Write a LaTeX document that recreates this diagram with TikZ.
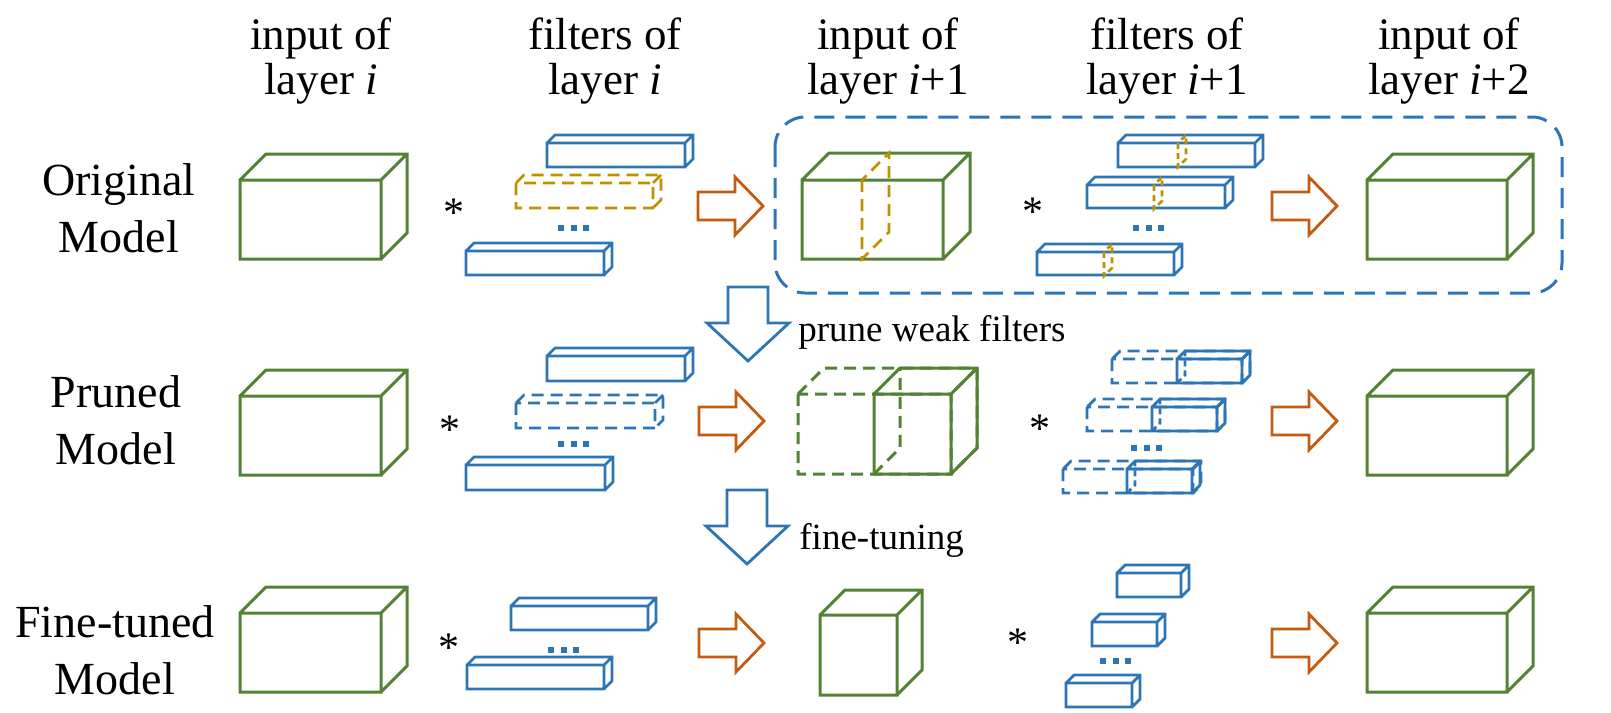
\documentclass[tikz,border=0pt]{standalone}
\usepackage{fontspec}
\setmainfont{Liberation Serif}
\usetikzlibrary{calc}
\definecolor{leaf}{RGB}{84,130,53}
\definecolor{steel}{RGB}{46,117,182}
\definecolor{rust}{RGB}{197,90,17}
\definecolor{amber}{RGB}{191,144,0}
\tikzset{
  head/.style={font=\fontsize{22.5}{22.5}\selectfont,align=center,inner sep=0pt},
  rowlab/.style={font=\fontsize{23}{28.5}\selectfont,align=center,inner sep=0pt},
  note/.style={font=\fontsize{18.5}{22}\selectfont,anchor=west,inner sep=0pt},
  conv/.style={font=\fontsize{21}{24}\selectfont,inner sep=0pt,yshift=-2.7pt},
  cubeline/.style={leaf,line width=1.5pt},
  barline/.style={steel,line width=1.4pt},
  ghost/.style={dash pattern=on 6pt off 3.5pt},
  fine/.style={dash pattern=on 3pt off 2pt},
  flow/.style={rust,line width=1.4pt,line join=miter},
  stage/.style={steel,line width=1.4pt,line join=miter},
  pics/prism/.style args={#1/#2/#3}{code={
    \draw (0,0) rectangle (#1,#2)
      (0,0) -- (#3,-#3) -- ++(#1,0) -- ++(0,#2) -- (#1,#2)
      (#1+#3,-#3) -- (#1,0);
  }},
  pics/slice/.style args={#1/#2}{code={
    \draw (0,0) -- (0,#1) -- (#2,#1-#2) -- (#2,-#2) -- cycle;
  }},
  pics/hidden/.style args={#1/#2}{code={
    \draw (0,#1) -- (#2,#1-#2) -- (#2,-#2);
  }},
  pics/rightarrow/.style={code={
    \draw (0,-14) -- (37,-14) -- (37,-29) -- (65,0) -- (37,29) -- (37,14) -- (0,14) -- cycle;
  }},
  pics/downarrow/.style={code={
    \draw (-20,0) -- (20,0) -- (20,36) -- (41,36) -- (0,74) -- (-41,36) -- (-20,36) -- cycle;
  }}
}

\begin{document}
\begin{tikzpicture}[x=0.5pt,y=-0.5pt]
  \useasboundingbox (0,0) rectangle (1611,712);

  % column heads
  \node[head] (hin)   at (321,61)  {input of\\layer \textit{i}};
  \node[head] (hfil)  at (605,61)  {filters of\\layer \textit{i}};
  \node[head] (hinA)  at (888,61)  {input of\\layer \textit{i}+1};
  \node[head] (hfilA) at (1167,61) {filters of\\layer \textit{i}+1};
  \node[head] (hinB)  at (1449,61) {input of\\layer \textit{i}+2};

  % row labels
  \node[rowlab] (orig) at (119,208) {Original\\Model};
  \node[rowlab] (prun) at (116,420) {Pruned\\Model};
  \node[rowlab] (tune) at (115,650) {Fine-tuned\\Model};

  % original model
  \pic[cubeline] at (240,180) {prism=141/79/26};
  \node[conv] (sA1) at (454,207) {*};
  \pic[barline] at (547,143) {prism=138/24/8};
  \pic[amber,line width=1.4pt,ghost] at (516,183) {prism=137/25/8};
  \pic[barline] at (466,251) {prism=138/24/8};
  \pic[flow] at (698,206) {rightarrow};
  \pic[cubeline] at (802,180) {prism=141/79/27};
  \pic[amber,line width=1.4pt,ghost] at (862,180) {slice=79/27};
  \node[conv] (sA2) at (1033,206) {*};
  \pic[barline] at (1118,143) {prism=137/24/8};
  \pic[barline] at (1087,185) {prism=138/23/8};
  \pic[barline] at (1037,252) {prism=137/23/8};
  \foreach \x/\y in {1178/143,1154/185,1104/252}
    \pic[amber,line width=1.4pt,fine] at (\x,\y) {slice=24/8};
  \pic[flow] at (1272,206) {rightarrow};
  \pic[cubeline] at (1367,180) {prism=140/79/26};
  \draw[steel,line width=1.5pt,dash pattern=on 10pt off 5.5pt,rounded corners=15pt]
    (775,117) rectangle (1562,293);

  \pic[stage] at (748,287) {downarrow};
  \node[note] (prune) at (798,332) {prune weak filters};

  % pruned model
  \pic[cubeline] at (240,396) {prism=141/79/26};
  \node[conv] (sB1) at (450,424) {*};
  \pic[barline] at (547,356) {prism=138/25/8};
  \pic[barline,ghost] at (516,403) {prism=139/25/8};
  \pic[barline] at (466,465) {prism=139/25/8};
  \pic[flow] at (699,421) {rightarrow};
  \pic[cubeline,ghost] at (798,394) {prism=153/80/26};
  \pic[cubeline] at (874,394) {prism=77/80/26};
  \pic[cubeline,ghost] at (874,394) {hidden=80/26};
  \node[conv] (sB2) at (1040,423) {*};
  \foreach \x/\y/\s in {1112/359/1177,1087/407/1152,1063/469/1127}{
    \pic[barline,ghost] at (\x,\y) {prism=130/24/8};
    \pic[barline] at (\s,\y) {prism=65/24/8};
    \pic[barline,fine] at (\s,\y) {hidden=24/8};
  }
  \pic[flow] at (1272,421) {rightarrow};
  \pic[cubeline] at (1367,396) {prism=140/79/26};

  \pic[stage] at (747,490) {downarrow};
  \node[note] (tuning) at (799,540) {fine-tuning};

  % fine-tuned model
  \pic[cubeline] at (240,613) {prism=141/79/26};
  \node[conv] (sC1) at (449,642) {*};
  \pic[barline] at (511,606) {prism=137/24/8};
  \pic[barline] at (467,665) {prism=137/24/8};
  \pic[flow] at (699,643) {rightarrow};
  \pic[cubeline] at (820,615) {prism=77/80/25};
  \node[conv] (sC2) at (1018,637) {*};
  \pic[barline] at (1117,573) {prism=64/24/8};
  \pic[barline] at (1092,622) {prism=65/24/8};
  \pic[barline] at (1066,683) {prism=66/24/8};
  \pic[flow] at (1272,643) {rightarrow};
  \pic[cubeline] at (1367,613) {prism=140/79/26};

  % dots between filters
  \foreach \x/\y in {561/228,1136/228,561/444,1134/448,551/650,1103/661}
    \foreach \k in {0,1,2}
      \fill[steel] (\x+12.5*\k-3,\y-3) rectangle ++(6,6);
\end{tikzpicture}
\end{document}
